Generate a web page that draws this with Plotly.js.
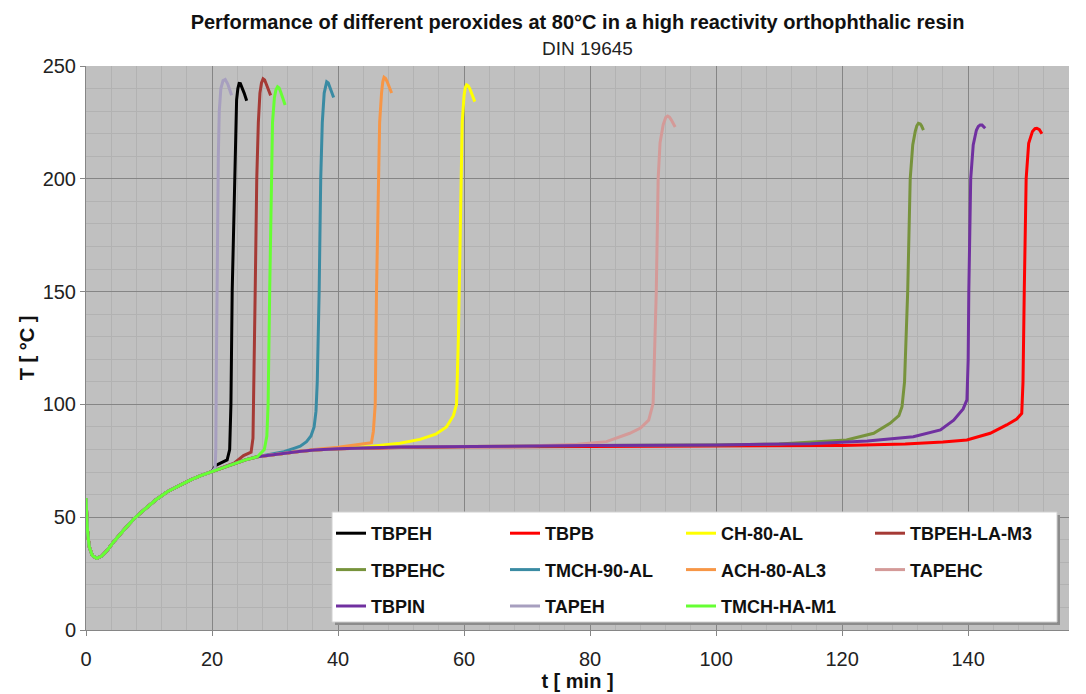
<!DOCTYPE html>
<html>
<head>
<meta charset="utf-8">
<script src="https://cdn.plot.ly/plotly-3.0.1.min.js"></script>
<style>html,body{margin:0;padding:0;background:#fff;}#chart{width:1086px;height:694px;}</style>
</head>
<body>
<div id="chart"></div>
<script>
// ---- data (t in min, T in °C) ----
const TBPEH_t = [0,0.2,0.5,1.0,1.7,2.5,3.4,4.5,6.0,7.5,9.2,11,12.9,14.7,16.6,18.3,20,20.6,21.5,22.4,22.8,23.0,23.2,23.55,23.75,23.9,24.1,24.3,24.5,24.7,25.1,25.5];
const TBPEH_T = [58.5,45,37,33,31.8,32.8,35.5,39.5,44.3,49,53.2,57.5,61.3,64,66.5,68.5,70.2,73,74.2,75.4,80,100,150,200,225,235,240,242.3,242.2,241,238,234.6];

const TBPB_t = [0,0.2,0.5,1.0,1.7,2.5,3.4,4.5,6.0,7.5,9.2,11,12.9,14.7,16.6,18.3,20,21.8,23.5,25.3,27.2,29.3,31.4,33.8,36.2,40,50,60,80,100,120,130,136,139.8,143.5,146.1,147.7,148.5,148.7,148.9,149.2,149.6,149.9,150.2,150.6,150.9,151.3,151.7];
const TBPB_T = [58.5,45,37,33,31.8,32.8,35.5,39.5,44.3,49,53.2,57.5,61.3,64,66.5,68.5,70.2,72.2,73.9,75.4,76.8,77.6,78.3,79.1,79.8,80.3,80.9,81.2,81.3,81.4,81.8,82.5,83.3,84.2,87.2,90.9,93.5,96,110,150,200,215.7,219,221,222.2,222.4,221.8,220];

const CH80AL_t = [0,0.2,0.5,1.0,1.7,2.5,3.4,4.5,6.0,7.5,9.2,11,12.9,14.7,16.6,18.3,20,21.8,23.5,25.3,27.2,29.3,31.4,33.8,36.2,40,45,49.8,53,55.5,57.2,58.3,58.8,59.1,59.3,59.5,59.7,60.0,60.2,60.4,60.65,60.9,61.3,61.7];
const CH80AL_T = [58.5,45,37,33,31.8,32.8,35.5,39.5,44.3,49,53.2,57.5,61.3,64,66.5,68.5,70.2,72.2,73.9,75.4,76.8,77.6,78.3,79.1,79.8,80.5,81.3,82.8,84.5,86.8,90,95,100,130,160,200,225,237,240.5,241.6,241.2,240,237,234.2];

const TBPEHLAM3_t = [0,0.2,0.5,1.0,1.7,2.5,3.4,4.5,6.0,7.5,9.2,11,12.9,14.7,16.6,18.3,20,21.8,23.5,25.0,26.2,26.5,26.6,26.85,27.1,27.35,27.6,27.85,28.1,28.35,28.6,29.0,29.3];
const TBPEHLAM3_T = [58.5,45,37,33,31.8,32.8,35.5,39.5,44.3,49,53.2,57.5,61.3,64,66.5,68.5,70.2,72.2,73.9,77.3,78.8,85,100,150,200,225,238,242.5,244.3,243.8,242,239,237];

const TBPEHC_t = [0,0.2,0.5,1.0,1.7,2.5,3.4,4.5,6.0,7.5,9.2,11,12.9,14.7,16.6,18.3,20,21.8,23.5,25.3,27.2,29.3,31.4,33.8,36.2,40,50,60,70,80,90,100,110,116,120.7,125,127.6,129,129.5,129.9,130.4,130.8,131.2,131.6,131.85,132.1,132.4,132.6,132.9];
const TBPEHC_T = [58.5,45,37,33,31.8,32.8,35.5,39.5,44.3,49,53.2,57.5,61.3,64,66.5,68.5,70.2,72.2,73.9,75.4,76.8,77.6,78.3,79.1,79.8,80.3,81.1,81.4,81.6,81.8,81.9,82,82.5,83.3,84.2,87.2,91.6,95,99,110,150,200,215,221,223.5,224.6,224.3,223.5,221.6];

const TMCH90AL_t = [0,0.2,0.5,1.0,1.7,2.5,3.4,4.5,6.0,7.5,9.2,11,12.9,14.7,16.6,18.3,20,21.8,23.5,25.3,27.2,29.3,31.4,33.0,34.0,35.0,35.7,36.2,36.5,36.7,37.0,37.25,37.5,37.8,38.0,38.2,38.45,38.7,39.3];
const TMCH90AL_T = [58.5,45,37,33,31.8,32.8,35.5,39.5,44.3,49,53.2,57.5,61.3,64,66.5,68.5,70.2,72.2,73.9,75.4,76.8,77.8,79,80.5,81.5,83.5,86,90,97,110,150,200,225,238,241.5,243,242.5,240.5,236];

const ACH80AL3_t = [0,0.2,0.5,1.0,1.7,2.5,3.4,4.5,6.0,7.5,9.2,11,12.9,14.7,16.6,18.3,20,21.8,23.5,25.3,27.2,29.3,31.4,33.8,36.2,40,43,45.3,45.6,45.9,46.1,46.4,46.6,46.9,47.1,47.3,47.55,47.8,48.2,48.5];
const ACH80AL3_T = [58.5,45,37,33,31.8,32.8,35.5,39.5,44.3,49,53.2,57.5,61.3,64,66.5,68.5,70.2,72.2,73.9,75.4,76.8,77.6,78.3,79.1,80,81,82,83,88,100,150,200,225,238,243,245,244.5,243,240,238];

const TAPEHC_t = [0,0.2,0.5,1.0,1.7,2.5,3.4,4.5,6.0,7.5,9.2,11,12.9,14.7,16.6,18.3,20,21.8,23.5,25.3,27.2,29.3,31.4,33.8,36.2,40,50,60,70,78,82.6,86.3,88,89.3,90.0,90.3,90.5,90.8,91.1,91.6,92.0,92.3,92.6,92.9,93.5];
const TAPEHC_T = [58.5,45,37,33,31.8,32.8,35.5,39.5,44.3,49,53.2,57.5,61.3,64,66.5,68.5,70.2,72.2,73.9,75.4,76.8,77.6,78.3,79.1,79.8,80.3,81.1,81.4,81.6,82.3,83.5,87.2,89.5,93,100.5,130,150,200,216,224,227.2,227.8,227.3,226,223];

const TBPIN_t = [0,0.2,0.5,1.0,1.7,2.5,3.4,4.5,6.0,7.5,9.2,11,12.9,14.7,16.6,18.3,20,21.8,23.5,25.3,27.2,29.3,31.4,33.8,36.2,40,50,60,70,80,90,100,115,124,131.3,135.6,137.7,139.2,139.8,140.0,140.1,140.4,140.8,141.3,141.6,141.9,142.2,142.4,142.7];
const TBPIN_T = [58.5,45,37,33,31.8,32.8,35.5,39.5,44.3,49,53.2,57.5,61.3,64,66.5,68.5,70.2,72.2,73.9,75.4,76.8,77.6,78.3,79.1,79.8,80.3,81.1,81.4,81.6,81.8,81.9,82,82.6,83.8,85.7,88.7,93,98,102,120,150,200,215,221.5,223.2,223.8,223.8,223.4,222.4];

const TAPEH_t = [0,0.2,0.5,1.0,1.7,2.5,3.4,4.5,6.0,7.5,9.2,11,12.9,14.7,16.6,18.3,20,20.5,20.6,20.7,20.85,21.0,21.15,21.4,21.75,22.1,22.5,22.8,23.1];
const TAPEH_T = [58.5,45,37,33,31.8,32.8,35.5,39.5,44.3,49,53.2,57.5,61.3,64,66.5,68.5,70.2,72,80,120,170,210,230,240,243.5,244,242,239.5,237];

const TMCHHAM1_t = [0,0.2,0.5,1.0,1.7,2.5,3.4,4.5,6.0,7.5,9.2,11,12.9,14.7,16.6,18.3,20,21.8,23.5,25.3,27.2,28.3,28.7,28.9,29.15,29.4,29.6,29.9,30.15,30.4,30.65,30.9,31.3,31.6];
const TMCHHAM1_T = [58.5,45,37,33,31.8,32.8,35.5,39.5,44.3,49,53.2,57.5,61.3,64,66.5,68.5,70.2,72.2,73.9,75.4,76.8,80,86,100,150,200,225,236,239.5,240.8,240.3,238.5,235.5,232.7];

const seriesNames = ['TBPEH','TBPB','CH-80-AL','TBPEH-LA-M3','TBPEHC','TMCH-90-AL','ACH-80-AL3','TAPEHC','TBPIN','TAPEH','TMCH-HA-M1'];
const seriesX = [TBPEH_t,TBPB_t,CH80AL_t,TBPEHLAM3_t,TBPEHC_t,TMCH90AL_t,ACH80AL3_t,TAPEHC_t,TBPIN_t,TAPEH_t,TMCHHAM1_t];
const seriesY = [TBPEH_T,TBPB_T,CH80AL_T,TBPEHLAM3_T,TBPEHC_T,TMCH90AL_T,ACH80AL3_T,TAPEHC_T,TBPIN_T,TAPEH_T,TMCHHAM1_T];
const seriesColors = ['#000000','#ff0000','#ffff00','#a53a35','#77933c','#3a8ba3','#f79646','#d49a98','#7030a0','#a79fbf','#66ff33'];
const legendOf = ['legend','legend2','legend3','legend4','legend','legend2','legend3','legend4','legend','legend2','legend3'];

const xTicks = [0,20,40,60,80,100,120,140];
const yTicks = [0,50,100,150,200,250];

const FONT = 'Liberation Sans Narrow, Arial Narrow, Liberation Sans, Arial, sans-serif';

const traces = seriesNames.map((n,i)=>({
  type:'scatter', mode:'lines', name:'<b>'+n+'</b>',
  x: seriesX[i], y: seriesY[i],
  line:{color:seriesColors[i], width:3},
  legend: legendOf[i], legendgroup: n
}));

// legend box geometry (pixels -> paper)
const L0 = 86, PW = 983, T0 = 66, PH = 564;
const px = v => (v - L0)/PW;
const py = v => 1 - (v - T0)/PH;

const legendCommon = {
  orientation:'v', bgcolor:'rgba(0,0,0,0)', borderwidth:0,
  font:{family:FONT, size:18, color:'#111'},
  yanchor:'top', xanchor:'left', tracegroupgap:10, traceorder:'grouped', itemwidth:30
};
const colX = [331, 505, 681, 870];

const layout = {
  width:1086, height:694,
  margin:{l:86, r:17, t:66, b:64},
  paper_bgcolor:'#ffffff', plot_bgcolor:'#c0c0c0',
  font:{family:FONT, color:'#111'},
  title:{
    text:'<b>Performance of different peroxides at 80°C in a high reactivity orthophthalic resin</b>',
    font:{family:FONT, size:20, color:'#111'},
    x:0.5, xref:'paper', xanchor:'center', y:1-22/694, yref:'container', yanchor:'middle'
  },
  annotations:[
    {text:'DIN 19645', xref:'paper', yref:'paper', x:0.51, y:py(48), xanchor:'center', yanchor:'middle',
     showarrow:false, font:{family:FONT, size:19, color:'#222'}}
  ],
  xaxis:{
    range:[0,156], tickvals:xTicks, ticks:'outside', ticklen:5, tickcolor:'#868686',
    showline:true, linecolor:'#868686', linewidth:1,
    showgrid:true, gridcolor:'#858585', gridwidth:1, zeroline:false,
    minor:{dtick:4, showgrid:true, gridcolor:'#b2b2b2', gridwidth:1},
    tickfont:{family:FONT, size:20, color:'#222'}, ticklabelstandoff:6,
    title:{text:'<b>t [ min ]</b>', font:{family:FONT, size:20, color:'#111'}, standoff:0}
  },
  yaxis:{
    range:[0,250], tickvals:yTicks, ticks:'outside', ticklen:5, tickcolor:'#868686',
    showline:true, linecolor:'#868686', linewidth:1,
    showgrid:true, gridcolor:'#858585', gridwidth:1, zeroline:false,
    minor:{dtick:10, showgrid:true, gridcolor:'#b2b2b2', gridwidth:1},
    tickfont:{family:FONT, size:20, color:'#222'},
    title:{text:'<b>T [ °C ]</b>', font:{family:FONT, size:20, color:'#111'}, standoff:2}
  },
  shapes:[
    {type:'rect', xref:'paper', yref:'paper', x0:px(335), x1:px(1060), y0:py(625), y1:py(515),
     fillcolor:'#8c8c8c', line:{width:0}, layer:'above'},
    {type:'rect', xref:'paper', yref:'paper', x0:px(332), x1:px(1057), y0:py(622), y1:py(512),
     fillcolor:'#ffffff', line:{color:'#d0d0d0', width:1}, layer:'above'}
  ],
  legend: Object.assign({}, legendCommon, {x:px(colX[0]), y:py(515)}),
  legend2: Object.assign({}, legendCommon, {x:px(colX[1]), y:py(515)}),
  legend3: Object.assign({}, legendCommon, {x:px(colX[2]), y:py(515)}),
  legend4: Object.assign({}, legendCommon, {x:px(colX[3]), y:py(515)}),
  showlegend:true
};

Plotly.newPlot('chart', traces, layout, {displayModeBar:false, responsive:false});
</script>
</body>
</html>
